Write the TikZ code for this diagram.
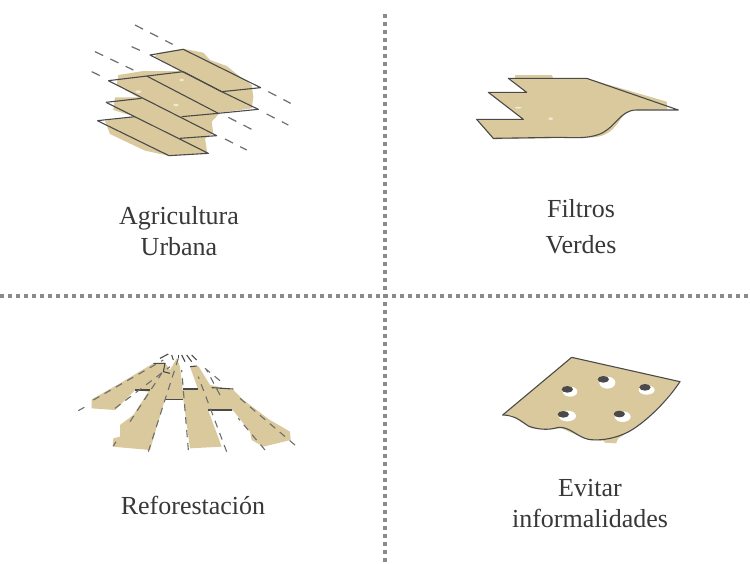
\documentclass[tikz,border=0pt]{standalone}
\usepackage{fontspec}
\setmainfont{Liberation Serif}
\definecolor{tan}{HTML}{DAC99C}
\definecolor{fleck}{HTML}{F0E8D2}
\definecolor{ink}{HTML}{4A4A4A}
\definecolor{sep}{HTML}{8A8A8A}
\tikzset{
  land/.style={fill=tan,draw=none},
  speck/.style={fill=fleck,draw=none},
  edgeline/.style={draw=ink,line width=1.1pt,line join=round},
  guide/.style={draw=ink!80,line width=1.2pt,dash pattern=on 9pt off 8pt},
  shortguide/.style={draw=ink!80,line width=1.1pt,dash pattern=on 7pt off 6pt},
  sepline/.style={draw=sep,line width=4pt,dash pattern=on 4pt off 4pt},
  lbl/.style={font=\fontsize{26}{31}\selectfont,align=center,text=black!78,inner sep=0pt},
  hole/.style={fill=white,draw=none},
  pit/.style={fill=ink,draw=none},
  zoomA/.style={shift={(70,10)},scale=0.33333},
  zoomB/.style={shift={(460,60)},scale=0.33333},
  zoomC/.style={shift={(70,340)},scale=0.33333},
  zoomD/.style={shift={(490,340)},scale=0.33333}
}
\begin{document}
\begin{tikzpicture}[x=1pt,y=-1pt]
\useasboundingbox (0,0) rectangle (750,563);
\fill[white] (0,0) rectangle (750,563);
% separators
\draw[sepline] (384.5,14) -- (384.5,563);
\draw[sepline] (0,296) -- (750,296);

% Agricultura Urbana
\begin{scope}[zoomA]
\fill[land] (260,130) -- (340,116) -- (400,128) -- (420,150) -- (470,168) -- (510,200) -- (545,225) -- (550,262) -- (545,295) -- (450,308) -- (425,335) -- (430,370) -- (405,385) -- (412,430) -- (295,437) -- (225,422) -- (120,372) -- (105,332) -- (195,320) -- (130,300) -- (135,262) -- (205,262) -- (140,225) -- (145,195) -- (220,183) -- (335,183) -- (255,140) -- cycle;
\fill[speck] (335,210) ellipse (7 and 4);
\fill[speck] (318,285) ellipse (8 and 4);
\fill[speck] (205,245) ellipse (9 and 4);
\draw[edgeline] (240,135) -- (340,118) -- (572,233) -- (455,245) -- cycle;
\draw[edgeline] (455,245) -- (565,298) -- (445,310);
\draw[edgeline] (115,212) -- (340,185);
\draw[edgeline] (340,185) -- (455,245);
\draw[edgeline] (230,198) -- (445,310) -- (335,320);
\draw[edgeline] (115,212) -- (440,377) -- (330,385);
\draw[edgeline] (108,277) -- (215,265);
\draw[edgeline] (108,277) -- (415,430) -- (297,437);
\draw[edgeline] (82,332) -- (195,320);
\draw[edgeline] (82,332) -- (297,437);
\draw[guide] (195,45) -- (308,103);
\draw[guide] (185,110) -- (212,122);
\draw[guide] (75,125) -- (190,180);
\draw[guide] (65,185) -- (90,197);
\draw[guide] (595,245) -- (662,280);
\draw[guide] (590,312) -- (655,345);
\draw[guide] (475,322) -- (545,358);
\draw[guide] (465,387) -- (530,420);
\end{scope}

% Filtros Verdes
\begin{scope}[zoomB]
\fill[land] (165,45) -- (275,45) -- (280,55) -- (380,55) -- (620,125) -- (622,148) -- (520,150)
  .. controls (470,160) and (480,225) .. (400,232) -- (100,238) -- (50,178) -- (190,178) -- (85,97) -- (200,97) -- (145,55) -- (165,55) -- cycle;
\fill[speck] (175,143) ellipse (10 and 3);
\fill[speck] (272,176) ellipse (7 and 4);
\draw[edgeline] (200,97) -- (85,97) -- (190,178) -- (50,178) -- (100,235) -- (295,232)
  .. controls (330,232) and (380,238) .. (420,222)
  .. controls (470,200) and (480,150) .. (530,150)
  -- (655,150) -- (380,55) -- (145,55) -- cycle;
\end{scope}

% Reforestacion
\begin{scope}[zoomC]
\fill[land] (250,70) -- (285,68) -- (300,90) -- (320,55) -- (330,80) -- (338,150) -- (385,150) -- (360,80) -- (385,78) -- (420,135) -- (490,150) -- (520,180) -- (600,240) -- (660,275) -- (662,300) -- (580,320) -- (545,300) -- (540,275) -- (490,212) -- (415,212) -- (455,320) -- (360,325) -- (340,178) -- (285,178) -- (240,330) -- (128,320) -- (130,295) -- (150,290) -- (150,255) -- (190,225) -- (235,155) -- (195,150) -- (135,210) -- (65,205) -- (65,178) -- (150,130) -- cycle;
\draw[edgeline] (250,70) -- (285,70) -- (280,95) -- (300,100);
\draw[edgeline] (195,150) -- (240,150);
\draw[edgeline] (285,178) -- (340,178);
\draw[edgeline] (340,147) -- (385,147);
\draw[edgeline] (360,80) -- (380,78);
\draw[edgeline] (425,143) -- (490,147);
\draw[edgeline] (415,210) -- (487,210);
\draw[shortguide] (25,212) -- (50,198);
\draw[shortguide] (70,180) -- (280,60);
\draw[shortguide] (135,205) -- (300,80);
\draw[shortguide] (130,318) -- (138,305);
\draw[shortguide] (180,245) -- (275,100);
\draw[shortguide] (235,335) -- (325,55);
\draw[shortguide] (355,330) -- (335,90);
\draw[shortguide] (470,335) -- (385,110);
\draw[shortguide] (585,330) -- (505,235);
\draw[shortguide] (450,165) -- (410,90);
\draw[shortguide] (675,315) -- (510,175);
\draw[shortguide] (450,122) -- (405,85);
\draw[edgeline] (270,55) -- (295,42);
\draw[edgeline] (305,45) -- (310,60);
\draw[edgeline] (325,45) -- (325,55);
\draw[edgeline] (335,45) -- (345,65);
\draw[edgeline] (350,45) -- (365,65);
\draw[edgeline] (365,45) -- (380,60);
\end{scope}

% Evitar informalidades
\begin{scope}[zoomD]
\fill[land] (245,52) -- (570,125) -- (500,210) -- (440,260) -- (385,295) -- (378,310) -- (345,308) -- (340,302) -- (300,300) -- (260,285) -- (215,265) -- (170,268) -- (125,265) -- (85,240) -- (65,225) -- (38,225) -- cycle;
\fill[hole] (352,128) ellipse (24 and 18);
\fill[hole] (240,155) ellipse (22 and 15);
\fill[hole] (470,150) ellipse (24 and 14);
\fill[hole] (232,228) ellipse (26 and 16);
\fill[hole] (398,230) ellipse (24 and 16);
\fill[pit] (340,118) ellipse (17 and 10);
\fill[pit] (232,148) ellipse (17 and 10);
\fill[pit] (465,142) ellipse (17 and 10);
\fill[pit] (220,223) ellipse (17 and 10);
\fill[pit] (388,222) ellipse (17 and 10);
\draw[edgeline] (245,52) -- (570,125)
  .. controls (540,170) and (490,225) .. (440,260)
  .. controls (400,290) and (340,305) .. (295,298)
  .. controls (260,290) and (240,260) .. (205,262)
  .. controls (175,272) and (140,268) .. (115,258)
  .. controls (95,245) and (75,225) .. (38,225) -- cycle;
\end{scope}

% labels
\node[lbl] (agri) at (179,231) {Agricultura\\Urbana};
\node[lbl] (filtros) at (581,227) {Filtros\\[5pt]Verdes};
\node[lbl] (refo) at (193,505) {Reforestación};
\node[lbl] (evitar) at (590,504) {Evitar\\informalidades};
\end{tikzpicture}
\end{document}
